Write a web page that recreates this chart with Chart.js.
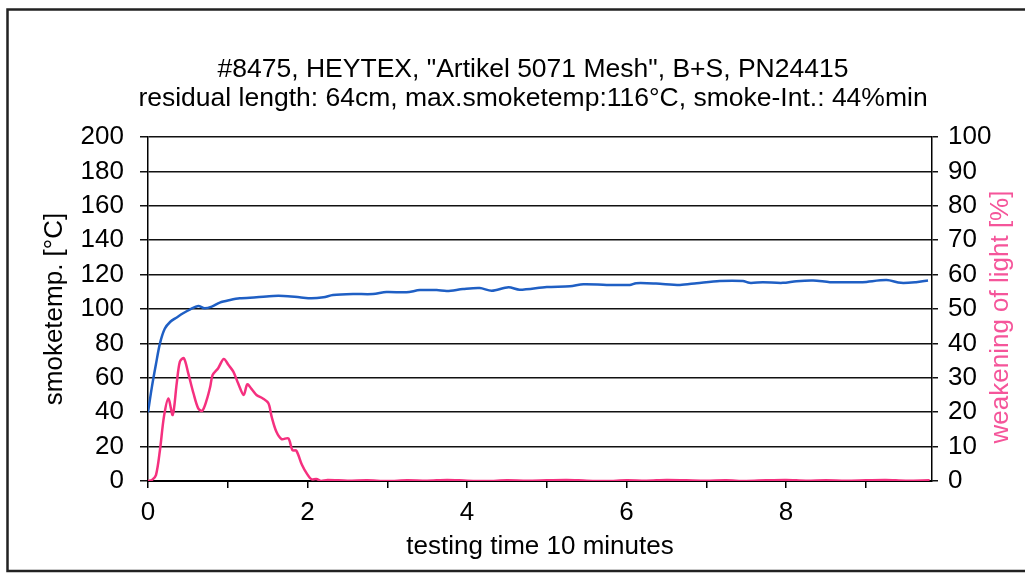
<!DOCTYPE html>
<html>
<head>
<meta charset="utf-8">
<script src="https://cdn.jsdelivr.net/npm/chart.js@4/dist/chart.umd.min.js"></script>
<style>
  html, body { margin: 0; padding: 0; background: #fff; }
  #wrap { width: 1025px; height: 573px; position: relative; }
</style>
</head>
<body>
<div id="wrap"><canvas id="c" width="1025" height="573"></canvas></div>
<script>
// ---- data ----
const titleLines = ['#8475, HEYTEX, "Artikel 5071 Mesh", B+S, PN24415',
                    'residual length: 64cm, max.smoketemp:116°C, smoke-Int.: 44%min'];
const xAxisTitle = 'testing time 10 minutes';
const yLeftTitle = 'smoketemp. [°C]';
const yRightTitle = 'weakening of light [%]';

const tempTimes  = [0, 0.05, 0.1, 0.15, 0.21, 0.28, 0.36, 0.44, 0.53, 0.63, 0.71, 0.80, 0.90, 1.03, 1.15, 1.36, 1.57, 1.70, 1.90, 2.05, 2.20, 2.32, 2.57, 2.82, 2.99, 3.24, 3.41, 3.62, 3.75, 3.95, 4.16, 4.31, 4.52, 4.66, 5.0, 5.29, 5.46, 5.75, 6.04, 6.12, 6.37, 6.67, 6.88, 7.17, 7.46, 7.54, 7.71, 7.96, 8.13, 8.34, 8.55, 8.75, 8.96, 9.26, 9.44, 9.63, 9.78];
const tempValues = [40, 55, 68, 80, 88.5, 92.6, 95.1, 97.5, 99.8, 101.7, 100.4, 101.4, 103.7, 105.2, 106.2, 106.8, 107.6, 107.6, 106.8, 106.2, 106.8, 108.1, 108.7, 108.7, 109.9, 109.7, 111, 111, 110.5, 111.6, 112.2, 110.6, 112.6, 111.2, 112.8, 113.2, 114.4, 114, 114, 115, 114.8, 114, 115, 116.3, 116.3, 115.2, 115.5, 115.2, 116.2, 116.6, 115.6, 115.5, 115.6, 116.8, 115.2, 115.6, 116.6];

const lightTimes  = [0, 0.05, 0.1, 0.15, 0.2, 0.255, 0.31, 0.36, 0.40, 0.45, 0.505, 0.57, 0.63, 0.68, 0.735, 0.78, 0.81, 0.88, 0.95, 1.01, 1.07, 1.13, 1.20, 1.245, 1.30, 1.36, 1.44, 1.51, 1.55, 1.61, 1.675, 1.76, 1.81, 1.86, 1.93, 1.99, 2.05, 2.11, 2.17, 2.25, 2.5, 2.75, 3.0, 3.25, 3.5, 3.75, 4.0, 4.25, 4.5, 4.75, 5.0, 5.25, 5.5, 5.75, 6.0, 6.25, 6.5, 6.75, 7.0, 7.25, 7.5, 7.75, 8.0, 8.25, 8.5, 8.75, 9.0, 9.25, 9.5, 9.8];
const lightValues = [0, 0.3, 1.7, 9, 18.7, 24, 19.2, 28.4, 34.7, 35.7, 31.3, 25.5, 21.1, 20.4, 23.5, 27.4, 30.8, 32.8, 35.5, 33.7, 31.8, 28.4, 25, 28.1, 26.7, 25, 24, 22.6, 18.7, 14.3, 12.2, 12.4, 9, 8.8, 4.7, 2.2, 0.5, 0.6, 0, 0.3, 0.1, 0.2, 0, 0.2, 0.1, 0.3, 0.1, 0, 0.2, 0.1, 0.2, 0.3, 0.1, 0, 0.2, 0.1, 0.3, 0.2, 0.1, 0.2, 0, 0.2, 0.3, 0.1, 0.2, 0.1, 0.2, 0.3, 0.1, 0.2];

const xMin = 0, xMax = 9.83;
const leftMin = 0, leftMax = 200, leftStep = 20;
const rightMin = 0, rightMax = 100, rightStep = 10;

const BLUE = '#1f5fc4';
const PINK = '#f5307f';
const PINK_TITLE = '#f5559a';
const FONT = "'Liberation Sans', Arial, sans-serif";
const FS = 26;

const tempData = tempTimes.map((t, i) => ({x: t, y: tempValues[i]}));
const lightData = lightTimes.map((t, i) => ({x: t, y: lightValues[i]}));

const framePlugin = {
  id: 'frame',
  afterDraw(chart) {
    const ctx = chart.ctx;
    const area = chart.chartArea;
    ctx.save();
    ctx.strokeStyle = '#222';
    ctx.lineWidth = 2.5;
    ctx.beginPath();
    ctx.moveTo(1030, 9.5);
    ctx.lineTo(7.5, 9.5);
    ctx.lineTo(7.5, 571);
    ctx.lineTo(1030, 571);
    ctx.stroke();
    ctx.fillStyle = '#000';
    ctx.font = "26.5px " + FONT;
    ctx.textAlign = 'center';
    ctx.textBaseline = 'middle';
    ctx.fillText(titleLines[0], 533, 70);
    ctx.fillText(titleLines[1], 533, 99);
    // right axis title, reading bottom-to-top
    ctx.translate(1001, (area.top + area.bottom) / 2 + 8);
    ctx.rotate(-Math.PI / 2);
    ctx.fillStyle = PINK_TITLE;
    ctx.font = FS + "px " + FONT;
    ctx.fillText(yRightTitle, 0, 0);
    ctx.restore();
  }
};

new Chart(document.getElementById('c'), {
  type: 'line',
  data: {
    datasets: [
      { label: 'smoketemp', data: tempData, yAxisID: 'y', borderColor: BLUE, borderWidth: 2.5,
        pointRadius: 0, tension: 0.3, fill: false },
      { label: 'weakening of light', data: lightData, yAxisID: 'y1', borderColor: PINK, borderWidth: 2.5,
        pointRadius: 0, tension: 0.3, fill: false }
    ]
  },
  options: {
    responsive: false,
    animation: false,
    events: [],
    layout: { padding: { left: 8, right: 0, top: 137, bottom: 10 } },
    plugins: { legend: { display: false }, title: { display: false }, tooltip: { enabled: false } },
    scales: {
      x: {
        type: 'linear', min: xMin, max: xMax, position: 'bottom',
        afterFit(s) { s.height = 82; },
        border: { color: '#000', width: 2 },
        grid: { drawOnChartArea: false, drawTicks: true, tickLength: 7, color: '#000', lineWidth: 1.5 },
        ticks: { stepSize: 1, includeBounds: false, autoSkip: false, maxRotation: 0, padding: 9,
                 color: '#000', font: { family: FONT, size: FS },
                 callback: v => (v % 2 === 0 ? String(v) : '') },
        title: { display: true, text: xAxisTitle, color: '#000', font: { family: FONT, size: FS },
                 padding: { top: 0, bottom: 1 } }
      },
      y: {
        type: 'linear', position: 'left', min: leftMin, max: leftMax,
        afterFit(s) { s.width = 140; },
        border: { color: '#000', width: 1.5 },
        grid: { color: '#111', lineWidth: 1.5, tickLength: 8 },
        ticks: { stepSize: leftStep, padding: 16, color: '#000', font: { family: FONT, size: FS } },
        title: { display: true, text: yLeftTitle, color: '#000', font: { family: FONT, size: FS },
                 padding: { top: 31, bottom: 0 } }
      },
      y1: {
        type: 'linear', position: 'right', min: rightMin, max: rightMax,
        afterFit(s) { s.width = 93; },
        border: { color: '#000', width: 1.5 },
        grid: { drawOnChartArea: false, color: '#111', lineWidth: 1.5, tickLength: 6 },
        ticks: { stepSize: rightStep, padding: 10, color: '#000', font: { family: FONT, size: FS } },
        title: { display: false }
      }
    }
  },
  plugins: [framePlugin]
});
</script>
</body>
</html>
